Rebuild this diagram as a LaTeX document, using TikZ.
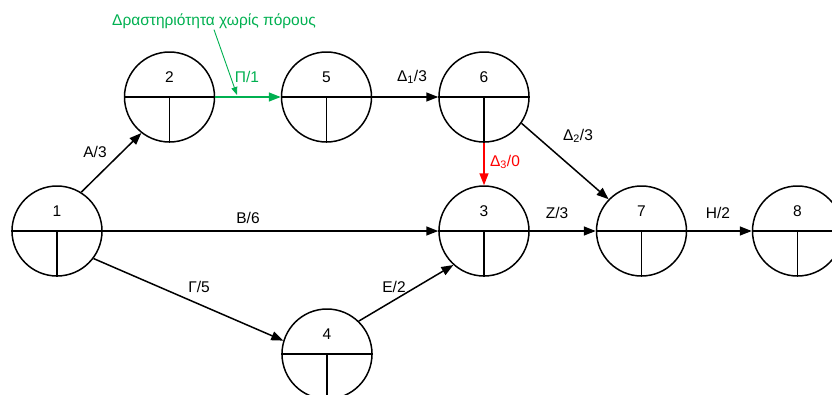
\documentclass[tikz,border=0pt]{standalone}
\usepackage{fontspec}
\setmainfont{Liberation Sans}
\usetikzlibrary{arrows.meta}
\definecolor{resgreen}{HTML}{00B050}
\definecolor{critred}{HTML}{FF0000}
\tikzset{
  event/.style={circle, draw, line width=1.5pt, minimum size=90pt, inner sep=0pt},
  arr/.style={line width=1.5pt, -{Triangle[length=12pt,width=9pt]}},
  lbl/.style={font=\fontsize{15.5}{18}\selectfont, inner sep=1pt},
  notearr/.style={line width=0.9pt, -{Triangle[length=8pt,width=6pt]}}
}
\begin{document}
\begin{tikzpicture}[x=1pt,y=-1pt]
\useasboundingbox (0,0) rectangle (832,394);
% events: name / x / y
\foreach \n/\x/\y in {1/57/231, 2/169.5/97, 5/326.5/97, 6/484/97, 3/484/231, 7/641.5/231, 8/797.5/231, 4/327/354}{
  \node[event] (n\n) at (\x,\y) {};
  \draw[line width=1.5pt] (n\n.west) -- (n\n.east);
  \draw[line width=1.5pt] (n\n.center) -- (n\n.south);
  \node[lbl] (t\n) at (\x,\y-20) {\n};
}
% activities
\draw[arr] (n1.58) -- (n2.232);
\node[lbl] (lA) at (95,152) {A/3};
\draw[arr, resgreen] (n2.east) -- (n5.west);
\node[lbl, text=resgreen] (lP) at (247,77) {Π/1};
\draw[arr] (n5.east) -- (n6.west);
\node[lbl] (lD1) at (412,77) {Δ\textsubscript{1}/3};
\draw[arr, critred] (n6.south) -- (n3.north);
\node[lbl, text=critred] (lD3) at (505,162) {Δ\textsubscript{3}/0};
\draw[arr] (n6.-35) -- (n7.136);
\node[lbl] (lD2) at (578,136) {Δ\textsubscript{2}/3};
\draw[arr] (n1.east) -- (n3.west);
\node[lbl] (lB) at (248,218) {B/6};
\draw[arr] (n3.east) -- (n7.west);
\node[lbl] (lZ) at (557,213) {Z/3};
\draw[arr] (n7.east) -- (n8.west);
\node[lbl] (lH) at (718,213) {H/2};
\draw[arr] (n1.-37) -- (n4.163);
\node[lbl] (lG) at (199,287) {Γ/5};
\draw[arr] (n4.46) -- (n3.228);
\node[lbl] (lE) at (394,287) {E/2};
% annotation of the resource-free activity
\node[lbl, text=resgreen] (note) at (214,21) {Δραστηριότητα χωρίς πόρους};
\coordinate (noteTip) at (237,95);
\draw[notearr, resgreen] (note.south) -- (noteTip);
\end{tikzpicture}
\end{document}
